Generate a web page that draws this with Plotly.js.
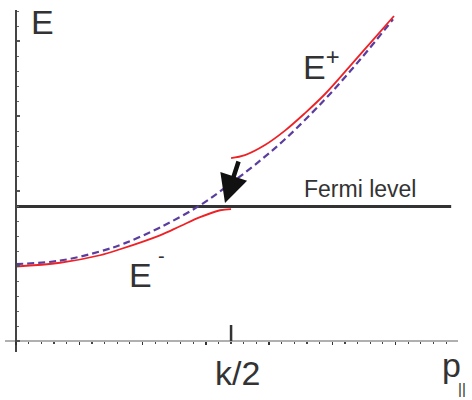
<!DOCTYPE html>
<html><head><meta charset="utf-8">
<script src="https://cdn.plot.ly/plotly-3.0.1.min.js"></script>
<style>html,body{margin:0;padding:0;background:#fff}</style>
</head><body><div id="chart" style="width:472px;height:400px"></div>
<script>
// free-electron parabola (dashed)
const freeP = [0, 0.348, 0.664, 0.862, 1.138, 1.455, 1.70, 1.889, 2.126, 2.443, 2.719, 2.98];
const freeE = [0.513, 0.536, 0.597, 0.653, 0.757, 0.905, 1.053, 1.175, 1.345, 1.612, 1.875, 2.145];
// lower branch E-
const lowerP = [0, 0.348, 0.664, 0.822, 1.138, 1.296, 1.455, 1.613, 1.70];
const lowerE = [0.497, 0.522, 0.572, 0.612, 0.705, 0.765, 0.826, 0.872, 0.88];
// upper branch E+
const upperP = [1.70, 1.810, 1.968, 2.126, 2.285, 2.443, 2.640, 2.814, 2.988];
const upperE = [1.22, 1.24, 1.307, 1.403, 1.52, 1.647, 1.833, 2.0, 2.167];
// Fermi level
const fermiE = 0.897;
const fermiP = [0, 3.44];
// ticks / labels
const kTickVals = [1.7];
const kTickText = ['k/2'];
const yAxisLabel = 'E';
const xAxisLabel = 'p';
const xAxisSub = '||';
const upperLabel = 'E<sup>+</sup>';
const lowerLabel = 'E';
const lowerSup = '-';
const fermiLabel = 'Fermi level';
// arrow (tip, tail)
const arrowTip = [1.652, 0.92];
const arrowTail = [1.763, 1.207];

const FONT = 'Liberation Sans, Arial, Helvetica, sans-serif';
const TXT = '#333333';

const traces = [
  {x: fermiP, y: [fermiE, fermiE], mode: 'lines', line: {color: '#333333', width: 3}, hoverinfo: 'skip'},
  {x: freeP, y: freeE, mode: 'lines', line: {color: '#5a3d9e', width: 2.2, dash: '7px,4px', shape: 'spline', smoothing: 1}, hoverinfo: 'skip'},
  {x: lowerP, y: lowerE, mode: 'lines', line: {color: '#ee2226', width: 1.8, shape: 'spline', smoothing: 1}, hoverinfo: 'skip'},
  {x: upperP, y: upperE, mode: 'lines', line: {color: '#ee2226', width: 1.8, shape: 'spline', smoothing: 1}, hoverinfo: 'skip'}
];

function ann(text, x, y, size, extra) {
  return Object.assign({text: text, xref: 'paper', yref: 'paper', x: x, y: y,
    xanchor: 'left', yanchor: 'bottom', showarrow: false,
    font: {family: FONT, size: size, color: TXT}}, extra || {});
}

const layout = {
  width: 472, height: 400,
  margin: {l: 5, r: 14, t: 10, b: 48, pad: 0},
  paper_bgcolor: '#ffffff', plot_bgcolor: '#ffffff',
  showlegend: false,
  xaxis: {
    range: [-0.087, 3.494], anchor: 'free', position: 0.032,
    showline: true, linecolor: '#b0b0b0', linewidth: 2,
    showgrid: false, zeroline: false,
    ticks: 'outside', tick0: 0, dtick: 0.5, ticklen: 3, tickwidth: 1.5, tickcolor: '#333',
    minor: {dtick: 0.1, ticks: 'outside', ticklen: 2, tickwidth: 1.2, tickcolor: '#444'},
    showticklabels: false, fixedrange: true
  },
  yaxis: {
    range: [-0.073, 2.207], anchor: 'free', position: 0.0243,
    showline: true, linecolor: '#444444', linewidth: 2,
    showgrid: false, zeroline: false,
    ticks: 'inside', tick0: 0, dtick: 0.5, ticklen: 3, tickwidth: 1.2, tickcolor: '#555',
    minor: {dtick: 0.1, ticks: 'inside', ticklen: 2, tickwidth: 1, tickcolor: '#666'},
    showticklabels: false, fixedrange: true
  },
  shapes: kTickVals.map(v => ({type: 'line', xref: 'x', yref: 'y', x0: v, x1: v, y0: 0, y1: 0.107,
    line: {color: '#333333', width: 2.5}})),
  annotations: [
    ann(yAxisLabel, 0.0536, 0.903, 34),
    ann(upperLabel, 0.654, 0.771, 34),
    ann(lowerLabel, 0.270, 0.163, 34),
    ann(lowerSup, 0.3336, 0.2415, 20),
    ann(kTickText[0], 0.4585, -0.1234, 34),
    ann(xAxisLabel, 0.960, -0.100, 34),
    ann(xAxisSub, 0.9956, -0.1380, 15),
    ann(fermiLabel, 0.656, 0.4336, 23),
    {x: arrowTip[0], y: arrowTip[1], xref: 'x', yref: 'y', ax: arrowTail[0], ay: arrowTail[1],
     axref: 'x', ayref: 'y', text: '', showarrow: true, arrowhead: 2, arrowsize: 1.25,
     arrowwidth: 4.5, arrowcolor: '#111111', standoff: 0}
  ]
};

Plotly.newPlot('chart', traces, layout, {displayModeBar: false, staticPlot: true});
</script></body></html>
